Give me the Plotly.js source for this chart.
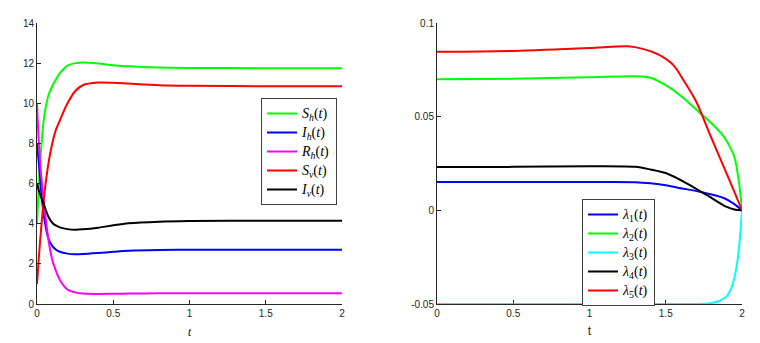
<!DOCTYPE html>
<html>
<head>
<meta charset="utf-8">
<script src="https://cdn.plot.ly/plotly-3.0.1.min.js"></script>
<style>
  html, body { margin: 0; padding: 0; background: #fff; }
  #plot { width: 760px; height: 343px; }
</style>
</head>
<body>
<div id="plot"></div>
<script>
// left panel: state variables
let tState = [0, 0.01, 0.02, 0.03, 0.04, 0.05, 0.075, 0.1, 0.125, 0.15, 0.2, 0.25, 0.3, 0.4, 0.5, 0.6, 0.8, 1, 1.5, 2];
let arrSh = [4, 5.6, 7.0, 8.0, 8.9, 9.5, 10.4, 10.85, 11.2, 11.5, 11.88, 12.0, 12.03, 11.98, 11.9, 11.84, 11.78, 11.76, 11.75, 11.75];
let arrIh = [8, 7.2, 6.3, 5.4, 4.7, 4.15, 3.25, 2.9, 2.7, 2.6, 2.51, 2.48, 2.49, 2.54, 2.6, 2.65, 2.69, 2.7, 2.7, 2.7];
let arrRh = [10, 8.3, 7.1, 6.2, 5.45, 4.75, 3.2, 2.2, 1.62, 1.2, 0.72, 0.58, 0.52, 0.5, 0.51, 0.52, 0.53, 0.53, 0.53, 0.53];
let arrSv = [1, 2.1, 3.1, 4.0, 4.85, 5.6, 7.0, 8.0, 8.7, 9.15, 10.0, 10.6, 10.9, 11.03, 11.02, 10.98, 10.9, 10.87, 10.85, 10.85];
let arrIv = [6, 5.7, 5.45, 5.25, 5.05, 4.85, 4.35, 4.05, 3.9, 3.82, 3.73, 3.7, 3.72, 3.8, 3.92, 4.02, 4.1, 4.13, 4.15, 4.15];

// right panel: adjoint variables
let tLam1 = [0, 1, 1.3, 1.4, 1.5, 1.6, 1.73, 1.88, 1.945, 2];
let arrLam1 = [0.0151, 0.0151, 0.015, 0.0144, 0.0134, 0.0118, 0.0098, 0.0066, 0.0036, 0];
let tLam2 = [0, 0.5, 1, 1.3, 1.4, 1.5, 1.6, 1.7, 1.8, 1.88, 1.92, 1.95, 1.98, 2];
let arrLam2 = [0.070, 0.0702, 0.0711, 0.0716, 0.0708, 0.0668, 0.061, 0.0538, 0.0465, 0.0395, 0.034, 0.0285, 0.0152, 0];
let tLam3 = [0, 1, 1.65, 1.75, 1.8, 1.85, 1.9, 1.93, 1.95, 1.97, 1.985, 2];
let arrLam3 = [-0.05, -0.05, -0.05, -0.0499, -0.0495, -0.0484, -0.0458, -0.0415, -0.036, -0.027, -0.016, 0];
let tLam4 = [0, 0.5, 1, 1.3, 1.4, 1.5, 1.64, 1.77, 1.9, 1.95, 2];
let arrLam4 = [0.0231, 0.0232, 0.0235, 0.0232, 0.0218, 0.0199, 0.0143, 0.0081, 0.0018, 0.0004, 0];
let tLam5 = [0, 0.5, 1, 1.25, 1.35, 1.45, 1.55, 1.62, 1.7, 1.8, 1.9, 1.95, 2];
let arrLam5 = [0.0846, 0.0851, 0.0866, 0.0876, 0.0862, 0.0832, 0.0775, 0.069, 0.058, 0.0385, 0.0195, 0.0098, 0];

let leftTicks = [0, 2, 4, 6, 8, 10, 12, 14];
let rightTickVals = [-0.05, 0, 0.05, 0.1];
let rightTickText = ["-0.05", "0", "0.05", "0.1"];
let xTickVals = [0, 0.5, 1, 1.5, 2];
let xTickText = ["0", "0.5", "1", "1.5", "2"];

// legend text is drawn larger than the legend font so rows stay tight
function legName(s) {
  return "<span style='font-size:14px'>" + s + "</span>";
}

function mkLine(x, y, name, color, xa, ya, leg) {
  return {
    x: x, y: y, name: legName(name), type: "scatter", mode: "lines",
    xaxis: xa, yaxis: ya, legend: leg,
    line: {color: color, width: 2, shape: "spline", smoothing: 0.8}
  };
}

let traces = [
  mkLine(tState, arrSh, "<i>S<sub>h</sub></i>(<i>t</i>)", "#00ff00", "x", "y", "legend"),
  mkLine(tState, arrIh, "<i>I<sub>h</sub></i>(<i>t</i>)", "#0000ff", "x", "y", "legend"),
  mkLine(tState, arrRh, "<i>R<sub>h</sub></i>(<i>t</i>)", "#ff00ff", "x", "y", "legend"),
  mkLine(tState, arrSv, "<i>S<sub>v</sub></i>(<i>t</i>)", "#ff0000", "x", "y", "legend"),
  mkLine(tState, arrIv, "<i>I<sub>v</sub></i>(<i>t</i>)", "#000000", "x", "y", "legend"),
  mkLine(tLam1, arrLam1, "<i>λ</i><sub>1</sub>(<i>t</i>)", "#0000ff", "x2", "y2", "legend2"),
  mkLine(tLam2, arrLam2, "<i>λ</i><sub>2</sub>(<i>t</i>)", "#00ff00", "x2", "y2", "legend2"),
  mkLine(tLam3, arrLam3, "<i>λ</i><sub>3</sub>(<i>t</i>)", "#00ffff", "x2", "y2", "legend2"),
  mkLine(tLam4, arrLam4, "<i>λ</i><sub>4</sub>(<i>t</i>)", "#000000", "x2", "y2", "legend2"),
  mkLine(tLam5, arrLam5, "<i>λ</i><sub>5</sub>(<i>t</i>)", "#ff0000", "x2", "y2", "legend2")
];

let tickFont = {family: "Liberation Sans, Arial, sans-serif", size: 10, color: "#262626"};
let legFont = {family: "Liberation Serif, DejaVu Serif, serif", size: 11.5, color: "#000"};

function axisBase() {
  return {
    showline: true, linecolor: "#262626", linewidth: 1,
    ticks: "inside", ticklen: 4, tickcolor: "#262626",
    showgrid: false, zeroline: false, mirror: false,
    tickfont: tickFont, automargin: false
  };
}

let layout = {
  width: 760, height: 343,
  margin: {l: 0, r: 0, t: 0, b: 0},
  paper_bgcolor: "#fff", plot_bgcolor: "#fff",
  showlegend: true,
  xaxis: Object.assign(axisBase(), {
    domain: [37 / 760, 342 / 760], range: [0, 2],
    tickvals: xTickVals, ticktext: xTickText, anchor: "y",
    title: {text: "<i>t</i>", font: {family: "Liberation Serif, serif", size: 13, color: "#262626"}, standoff: 8}
  }),
  yaxis: Object.assign(axisBase(), {
    domain: [39 / 343, 320 / 343], range: [0, 14],
    tickvals: leftTicks, anchor: "x"
  }),
  xaxis2: Object.assign(axisBase(), {
    domain: [437 / 760, 742 / 760], range: [0, 2],
    tickvals: xTickVals, ticktext: xTickText, anchor: "y2",
    title: {text: "t", font: {family: "Liberation Sans, Arial, sans-serif", size: 12, color: "#262626"}, standoff: 8}
  }),
  yaxis2: Object.assign(axisBase(), {
    domain: [39 / 343, 320 / 343], range: [-0.05, 0.1],
    tickvals: rightTickVals, ticktext: rightTickText, anchor: "x2"
  }),
  legend: {
    x: 261 / 760, y: 1 - 98 / 343, xanchor: "left", yanchor: "top",
    bgcolor: "#fff", bordercolor: "#404040", borderwidth: 1,
    font: legFont, itemwidth: 30, tracegroupgap: 0
  },
  legend2: {
    x: 582 / 760, y: 1 - 199 / 343, xanchor: "left", yanchor: "top",
    bgcolor: "#fff", bordercolor: "#404040", borderwidth: 1,
    font: legFont, itemwidth: 30, tracegroupgap: 0
  }
};

Plotly.newPlot("plot", traces, layout, {staticPlot: true, displayModeBar: false});
</script>
</body>
</html>
